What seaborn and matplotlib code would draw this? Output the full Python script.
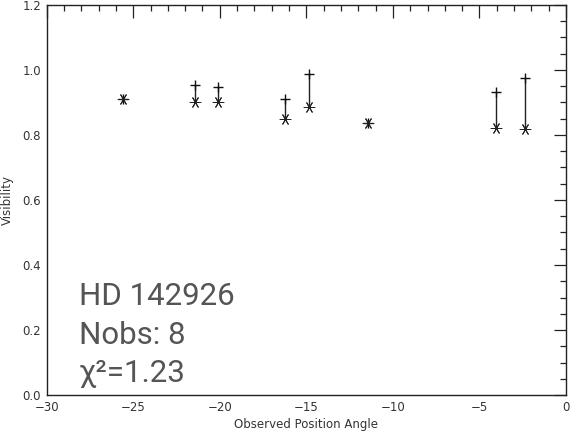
import matplotlib
matplotlib.use("Agg")
import matplotlib.pyplot as plt
import seaborn as sns
import pandas as pd
from matplotlib.ticker import MultipleLocator

# Data
position_angle = [-25.6, -21.44, -20.08, -16.21, -14.85, -11.42, -4.07, -2.36]
vis_observed = [0.912, 0.903, 0.900, 0.848, 0.887, 0.837, 0.821, 0.818]
vis_model = [0.912, 0.953, 0.949, 0.912, 0.989, 0.837, 0.932, 0.974]
star_name = "HD 142926"
n_obs = 8
chi2 = 1.23

df = pd.DataFrame({"pa": position_angle, "obs": vis_observed, "model": vis_model})

sns.set_style("white")
plt.rcParams["font.family"] = ["DejaVu Sans"]

fig = plt.figure(figsize=(5.87, 4.40), dpi=100)
ax = fig.add_axes([46.7 / 587, 1 - 395 / 440, (566 - 46.7) / 587, (395 - 5) / 440])

ax.vlines(df["pa"], df["obs"], df["model"], colors="#222222", linewidth=1.0, zorder=2)
sns.scatterplot(data=df, x="pa", y="model", marker="+", s=60, color="#111111",
                linewidth=1.0, ax=ax, zorder=3, legend=False)
sns.scatterplot(data=df, x="pa", y="obs", marker=(6, 2, 90), s=60, color="#222222",
                linewidth=0.7, ax=ax, zorder=4, legend=False)

ax.set_xlim(-30, 0)
ax.set_ylim(0, 1.2)
ax.xaxis.set_major_locator(MultipleLocator(5))
ax.xaxis.set_minor_locator(MultipleLocator(1))
ax.yaxis.set_major_locator(MultipleLocator(0.2))
ax.yaxis.set_minor_locator(MultipleLocator(0.05))
ax.yaxis.set_major_formatter(matplotlib.ticker.FormatStrFormatter("%.1f"))
ax.xaxis.set_major_formatter(matplotlib.ticker.FuncFormatter(
    lambda v, p: "0" if abs(v) < 1e-9 else "\u2212%d" % abs(round(v))))

ax.tick_params(which="both", direction="in", top=True, right=True, colors="#222222",
               labelcolor="#333333", labelsize=8.5, width=0.9)
ax.tick_params(which="major", length=9, pad=4)
ax.tick_params(which="minor", length=4.5)
for sp in ax.spines.values():
    sp.set_color("#222222")
    sp.set_linewidth(1.0)

ax.set_xlabel("Observed Position Angle", fontsize=8.5, color="#333333", labelpad=3)
ax.set_ylabel("Visibility", fontsize=8.5, color="#333333", labelpad=6)

txt_kw = dict(transform=fig.transFigure, fontsize=22.5, color="#555555",
              family=["Roboto", "DejaVu Sans"], ha="left", va="baseline")
fig.text(79 / 587, 1 - 305 / 440, star_name, **txt_kw)
fig.text(79 / 587, 1 - 344 / 440, "Nobs: %d" % n_obs, **txt_kw)
fig.text(79 / 587, 1 - 382 / 440, "\u03c7\u00b2=%.2f" % chi2, **txt_kw)

fig.savefig("out.png", dpi=100)
